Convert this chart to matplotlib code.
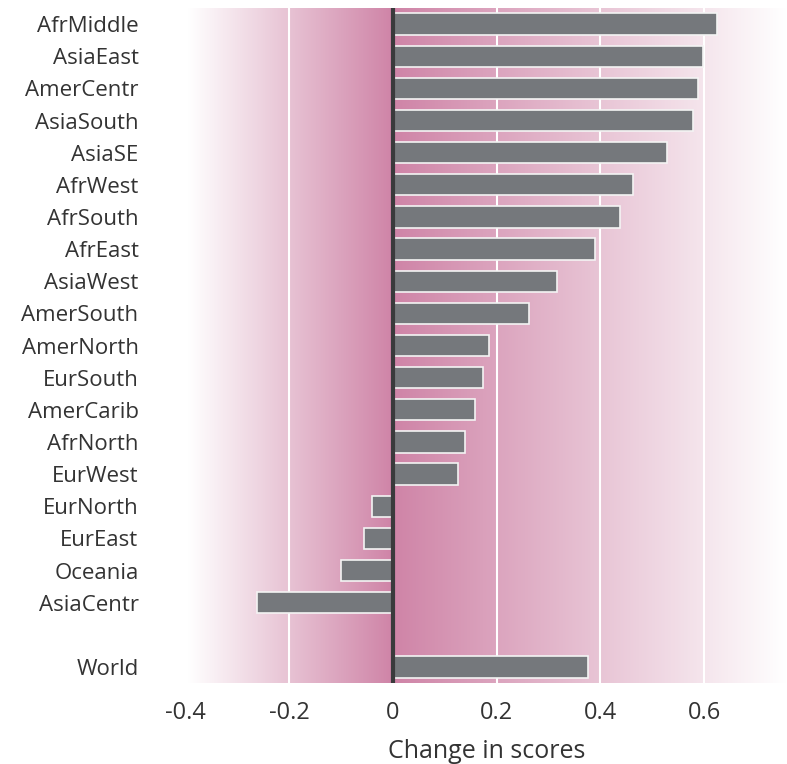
import numpy as np
import matplotlib
matplotlib.use("Agg")
import matplotlib.pyplot as plt
from matplotlib.colors import LinearSegmentedColormap

regions = ["AfrMiddle", "AsiaEast", "AmerCentr", "AsiaSouth", "AsiaSE", "AfrWest",
           "AfrSouth", "AfrEast", "AsiaWest", "AmerSouth", "AmerNorth", "EurSouth",
           "AmerCarib", "AfrNorth", "EurWest", "EurNorth", "EurEast", "Oceania",
           "AsiaCentr"]
region_values = [0.625, 0.598, 0.588, 0.579, 0.528, 0.462, 0.437, 0.390, 0.317,
                 0.263, 0.185, 0.173, 0.158, 0.138, 0.125, -0.041, -0.056, -0.100,
                 -0.263]
world_label = "World"
world_value = 0.377
xticks = [-0.4, -0.2, 0, 0.2, 0.4, 0.6]
xtick_labels = ["-0.4", "-0.2", "0", "0.2", "0.4", "0.6"]

plt.rcParams['font.family'] = ['Open Sans', 'DejaVu Sans']

fig = plt.figure(figsize=(7.87, 7.64), dpi=100)
ax = fig.add_axes([0.236, 0.106, 0.764, 0.8835])

xmin, xmax = -0.395, 0.76
ax.set_xlim(xmin, xmax)
ax.set_ylim(20.5, -0.5)

# gradient background
xs = np.linspace(xmin, xmax, 1200)
g = np.where(xs < 0, 1 - xs / xmin, 1 - xs / xmax)
g = np.clip(g, 0, 1)
cmap = LinearSegmentedColormap.from_list("pk", ["#ffffff", "#cf84a7"])
ax.imshow(g[np.newaxis, :], aspect='auto', cmap=cmap, vmin=0, vmax=1,
          extent=[xmin, xmax, 20.5, -0.5], zorder=0, interpolation='bilinear')

for t in [-0.2, 0.2, 0.4, 0.6]:
    ax.axvline(t, color='white', lw=1.5, zorder=1)

ypos = list(range(len(regions))) + [len(regions) + 1]
labels = regions + [world_label]
vals = region_values + [world_value]
ax.barh(ypos, vals, height=0.66, color='#75787c', edgecolor='#f4f4f4',
        linewidth=1.2, zorder=2)
ax.axvline(0, color='#3a3a3c', lw=3, zorder=3)

ax.set_yticks(ypos)
ax.set_yticklabels(labels, fontsize=16, color='#333333')
ax.set_xticks(xticks)
ax.set_xticklabels(xtick_labels, fontsize=17, color='#333333')
ax.tick_params(axis='y', length=0, pad=34)
ax.tick_params(axis='x', length=0, pad=13)
ax.set_xlabel("Change in scores", fontsize=18, color='#333333', labelpad=10)
for s in ax.spines.values():
    s.set_visible(False)

fig.savefig("out.png", dpi=100)
